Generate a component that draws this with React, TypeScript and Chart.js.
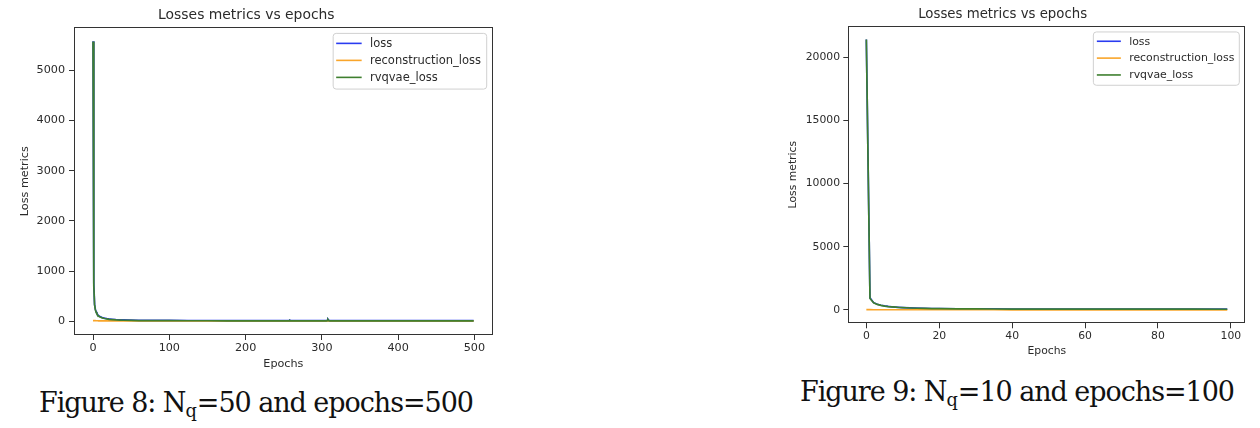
import React, { useEffect, useRef } from "react";
import { Chart, registerables } from "chart.js";

Chart.register(...registerables);

// ---------- data ----------
const seriesNames = ["loss", "reconstruction_loss", "rvqvae_loss"];
const seriesColors = ["#2a3cf0", "#f9a52a", "#3e7f2f"];

// Figure 8: Nq=50, epochs=500
const fig8Epochs = [0, 1, 2, 3, 4, 5, 6, 7, 8, 10, 12, 15, 18, 21, 25, 30, 35, 40, 50, 60, 70, 80, 100, 125, 150, 175, 200, 225, 250, 257, 258, 259, 260, 280, 300, 306, 307, 308, 309, 310, 330, 350, 400, 450, 499];
const fig8Loss = [5575, 760, 342, 240, 189, 157, 134, 116, 103, 86, 74, 61, 52, 45, 39, 32, 28, 25, 21, 18, 17, 16, 15, 14, 14, 13, 13, 13, 12, 12, 20, 13, 12, 12, 11, 11, 16, 38, 17, 11, 11, 10, 10, 10, 10];
const fig8Recon = [12, 11, 10, 10, 9, 9, 9, 8, 8, 8, 8, 7, 7, 7, 7, 6, 6, 6, 6, 5, 5, 5, 5, 5, 5, 5, 5, 5, 5, 5, 5, 5, 5, 5, 4, 4, 4, 4, 4, 4, 4, 4, 4, 4, 4];
const fig8Rvq = [5570, 700, 330, 230, 180, 148, 125, 108, 95, 78, 66, 54, 45, 38, 32, 26, 22, 19, 15, 13, 12, 11, 10, 9, 9, 8, 8, 8, 7, 7, 15, 8, 7, 7, 7, 7, 12, 34, 13, 7, 7, 6, 6, 6, 6];
const fig8XTicks = [0, 100, 200, 300, 400, 500];
const fig8YTicks = [0, 1000, 2000, 3000, 4000, 5000];

// Figure 9: Nq=10, epochs=100
const fig9Epochs = [0, 1, 2, 3, 4, 5, 6, 7, 8, 9, 10, 12, 14, 16, 18, 20, 25, 30, 35, 40, 50, 60, 70, 80, 90, 99];
const fig9Loss = [21410, 960, 569, 439, 363, 308, 270, 240, 215, 195, 177, 152, 133, 118, 107, 99, 86, 78, 73, 68, 63, 60, 58, 56, 55, 54];
const fig9Recon = [12, 10, 9, 9, 8, 8, 8, 8, 7, 7, 7, 7, 7, 6, 6, 6, 6, 6, 6, 5, 5, 5, 5, 5, 5, 5];
const fig9Rvq = [21400, 900, 560, 430, 355, 300, 262, 232, 208, 188, 170, 145, 126, 112, 101, 93, 80, 72, 67, 63, 58, 55, 53, 51, 50, 49];
const fig9XTicks = [0, 20, 40, 60, 80, 100];
const fig9YTicks = [0, 5000, 10000, 15000, 20000];

const chartTitle = "Losses metrics vs epochs";
const xTitle = "Epochs";
const yTitle = "Loss metrics";

// ---------- plugins ----------
const TEXT = "#2b2b2b";

const framePlugin = {
  id: "mplFrame",
  afterDatasetsDraw(chart: any) {
    const { ctx, chartArea: a } = chart;
    ctx.save();
    ctx.strokeStyle = "#333";
    ctx.lineWidth = 1;
    ctx.strokeRect(Math.round(a.left) + 0.5, Math.round(a.top) + 0.5, Math.round(a.right - a.left) - 1, Math.round(a.bottom - a.top) - 1);
    ctx.restore();
  },
};

const legendPlugin = {
  id: "mplLegend",
  afterDraw(chart: any, _args: any, o: any) {
    const { ctx, chartArea: a } = chart;
    const ds = chart.data.datasets;
    ctx.save();
    ctx.font = `${o.fontSize}px "DejaVu Sans"`;
    const maxW = Math.max(...ds.map((d: any) => ctx.measureText(d.label).width));
    const w = o.padL + o.sampleLen + o.gap + maxW + o.padR;
    const h = o.rowTop + (ds.length - 1) * o.rowH + o.rowBottom;
    const x0 = a.right - o.inset - w;
    const y0 = a.top + o.inset;
    ctx.beginPath();
    (ctx as any).roundRect(x0, y0, w, h, 3);
    ctx.fillStyle = "rgba(255,255,255,0.85)";
    ctx.fill();
    ctx.strokeStyle = "#d0d0d0";
    ctx.lineWidth = 1;
    ctx.stroke();
    ds.forEach((d: any, i: number) => {
      const y = y0 + o.rowTop + i * o.rowH;
      ctx.beginPath();
      ctx.moveTo(x0 + o.padL, y);
      ctx.lineTo(x0 + o.padL + o.sampleLen, y);
      ctx.strokeStyle = d.borderColor;
      ctx.lineWidth = 1.6;
      ctx.stroke();
      ctx.fillStyle = TEXT;
      ctx.textBaseline = "middle";
      ctx.textAlign = "left";
      ctx.fillText(d.label, x0 + o.padL + o.sampleLen + o.gap, y + 0.5);
    });
    ctx.restore();
  },
};

// ---------- chart ----------
type Spec = {
  epochs: number[];
  series: number[][];
  xTicks: number[];
  yTicks: number[];
  left: number;
  top: number;
  width: number;
  height: number;
  yAxisWidth: number;
  xAxisHeight: number;
  padRight: number;
  padBottom: number;
  titleSize: number;
  titlePadTop: number;
  titlePadBottom: number;
  tickSize: number;
  yTitlePad: number;
  yTickPad: number;
  xTickPad: number;
  xTitlePad: number;
  legend: any;
};

function LossChart({ spec }: { spec: Spec }) {
  const ref = useRef<HTMLCanvasElement | null>(null);
  useEffect(() => {
    if (!ref.current) return;
    const all = spec.series.flat();
    const lo = Math.min(...all);
    const hi = Math.max(...all);
    const yPad = 0.05 * (hi - lo);
    const xLo = Math.min(...spec.epochs);
    const xHi = Math.max(...spec.epochs);
    const xPad = 0.05 * (xHi - xLo);
    const orders = [2, 1, 0];
    const chart = new Chart(ref.current, {
      type: "line",
      data: {
        datasets: spec.series.map((vals, i) => ({
          label: seriesNames[i],
          data: spec.epochs.map((e, j) => ({ x: e, y: vals[j] })),
          borderColor: seriesColors[i],
          backgroundColor: seriesColors[i],
          borderWidth: 1.7,
          pointRadius: 0,
          tension: 0,
          fill: false,
          order: orders[i],
        })),
      },
      options: {
        animation: false,
        responsive: false,
        devicePixelRatio: 1,
        layout: { padding: { left: 0, top: 0, right: spec.padRight, bottom: spec.padBottom } },
        plugins: {
          legend: { display: false },
          tooltip: { enabled: false },
          title: {
            display: true,
            text: chartTitle,
            color: TEXT,
            font: { size: spec.titleSize, weight: "normal", family: "DejaVu Sans" },
            padding: { top: spec.titlePadTop, bottom: spec.titlePadBottom },
          },
          mplLegend: spec.legend,
        } as any,
        scales: {
          x: {
            type: "linear",
            min: xLo - xPad,
            max: xHi + xPad,
            afterBuildTicks: (s: any) => {
              s.ticks = spec.xTicks.map((v) => ({ value: v }));
            },
            afterFit: (s: any) => {
              s.height = spec.xAxisHeight;
            },
            ticks: {
              color: TEXT,
              font: { size: spec.tickSize, family: "DejaVu Sans" },
              padding: spec.xTickPad,
              maxRotation: 0,
              autoSkip: false,
              callback: (v: any) => String(v),
            },
            grid: { display: true, drawOnChartArea: false, drawTicks: true, tickLength: 5, tickColor: "#333", tickWidth: 1 },
            border: { display: false },
            title: {
              display: true,
              text: xTitle,
              color: TEXT,
              font: { size: spec.tickSize, family: "DejaVu Sans" },
              padding: { top: 0, bottom: spec.xTitlePad },
            },
          },
          y: {
            type: "linear",
            min: lo - yPad,
            max: hi + yPad,
            afterBuildTicks: (s: any) => {
              s.ticks = spec.yTicks.map((v) => ({ value: v }));
            },
            afterFit: (s: any) => {
              s.width = spec.yAxisWidth;
            },
            ticks: {
              color: TEXT,
              font: { size: spec.tickSize, family: "DejaVu Sans" },
              padding: spec.yTickPad,
              autoSkip: false,
              callback: (v: any) => String(v),
            },
            grid: { display: true, drawOnChartArea: false, drawTicks: true, tickLength: 5, tickColor: "#333", tickWidth: 1 },
            border: { display: false },
            title: {
              display: true,
              text: yTitle,
              color: TEXT,
              font: { size: spec.tickSize, family: "DejaVu Sans" },
              padding: { top: spec.yTitlePad, bottom: 0 },
            },
          },
        },
      } as any,
      plugins: [framePlugin, legendPlugin],
    });
    return () => chart.destroy();
  }, [spec]);
  return (
    <canvas
      ref={ref}
      width={spec.width}
      height={spec.height}
      style={{ position: "absolute", left: spec.left, top: spec.top, width: spec.width, height: spec.height, display: "block" }}
    />
  );
}

const spec8: Spec = {
  epochs: fig8Epochs,
  series: [fig8Loss, fig8Recon, fig8Rvq],
  xTicks: fig8XTicks,
  yTicks: fig8YTicks,
  left: 0,
  top: 0,
  width: 510,
  height: 385,
  yAxisWidth: 74,
  xAxisHeight: 40,
  padRight: 17.3,
  padBottom: 10,
  titleSize: 13.9,
  titlePadTop: 6.7,
  titlePadBottom: 4,
  tickSize: 11.2,
  yTitlePad: 18.3,
  yTickPad: 4,
  xTickPad: 1.5,
  xTitlePad: 4.2,
  legend: { fontSize: 11.5, padL: 3, sampleLen: 25.5, gap: 8.3, padR: 5.7, rowTop: 10, rowH: 17, rowBottom: 11.7, inset: 6 },
};

const spec9: Spec = {
  epochs: fig9Epochs,
  series: [fig9Loss, fig9Recon, fig9Rvq],
  xTicks: fig9XTicks,
  yTicks: fig9YTicks,
  left: 760,
  top: 0,
  width: 500,
  height: 370,
  yAxisWidth: 88.3,
  xAxisHeight: 38,
  padRight: 14.7,
  padBottom: 8.7,
  titleSize: 13.3,
  titlePadTop: 6.7,
  titlePadBottom: 3.3,
  tickSize: 10.8,
  yTitlePad: 26.8,
  yTickPad: 3.3,
  xTickPad: 1.2,
  xTitlePad: 3.8,
  legend: { fontSize: 10.9, padL: 3.5, sampleLen: 24, gap: 8.3, padR: 5, rowTop: 9.3, rowH: 16.85, rowBottom: 10.3, inset: 6 },
};

const captionStyle: React.CSSProperties = {
  position: "absolute",
  fontFamily: '"DejaVu Serif", serif',
  fontSize: 27,
  letterSpacing: "-1.05px",
  lineHeight: "30px",
  color: "#111",
  whiteSpace: "nowrap",
};

const subStyle: React.CSSProperties = { fontSize: "0.66em", verticalAlign: "-0.3em", lineHeight: 0, letterSpacing: 0 };

export default function App() {
  return (
    <div style={{ position: "fixed", left: 0, top: 0, width: 1260, height: 428, background: "#fff", overflow: "hidden" }}>
      <LossChart spec={spec8} />
      <LossChart spec={spec9} />
      <div style={{ ...captionStyle, left: 39, top: 388 }}>
        Figure 8: N<sub style={subStyle}>q</sub>=50 and epochs=500
      </div>
      <div style={{ ...captionStyle, left: 800, top: 377 }}>
        Figure 9: N<sub style={subStyle}>q</sub>=10 and epochs=100
      </div>
    </div>
  );
}
